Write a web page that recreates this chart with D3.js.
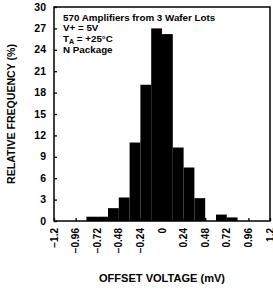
<!DOCTYPE html>
<html>
<head>
  <meta charset="utf-8">
  <script src="https://d3js.org/d3.v7.min.js"></script>
  <style>
    body { margin: 0; background: #fff; }
    text { font-family: "Liberation Sans", Arial, sans-serif; font-weight: bold; fill: #000; }
  </style>
</head>
<body>
  <svg width="273" height="289"></svg>
  <script>
    // histogram bins (mV) and relative frequency (%)
    const binEdges = [-0.84, -0.72, -0.6, -0.48, -0.36, -0.24, -0.12, 0, 0.12, 0.24, 0.36, 0.48, 0.6, 0.72, 0.84];
    const freq = [0.6, 0.6, 1.8, 3.3, 11.0, 19.1, 27.0, 26.2, 10.3, 7.5, 3.2, 0, 0.9, 0.5];
    const xTicks = [-1.2, -0.96, -0.72, -0.48, -0.24, 0, 0.24, 0.48, 0.72, 0.96, 1.2];
    const xTickLabels = ["\u22121.2", "\u22120.96", "\u22120.72", "\u22120.48", "\u22120.24", "0", "0.24", "0.48", "0.72", "0.96", "1.2"];
    const yTicks = [0, 3, 6, 9, 12, 15, 18, 21, 24, 27, 30];
    const notes = ["570 Amplifiers from 3 Wafer Lots", "V+ = 5V", "T|A| = +25\u00B0C", "N Package"];

    const svg = d3.select("svg");
    const mLeft = 54, mRight = 270, mTop = 7, mBottom = 221;

    const x = d3.scaleLinear().domain([-1.2, 1.2]).range([mLeft, mRight]);
    const y = d3.scaleLinear().domain([0, 30]).range([mBottom, mTop]);

    // bars
    const bins = freq.map((v, i) => ({ x0: binEdges[i], x1: binEdges[i + 1], v }));
    svg.append("g").selectAll("rect")
      .data(bins)
      .enter().append("rect")
      .attr("x", d => x(d.x0))
      .attr("width", d => x(d.x1) - x(d.x0))
      .attr("y", d => y(d.v))
      .attr("height", d => y(0) - y(d.v))
      .attr("fill", "#000");

    // y axis (ticks inward)
    const yAxis = svg.append("g")
      .attr("transform", `translate(${mLeft},0)`)
      .call(d3.axisRight(y).tickValues(yTicks).tickSize(3).tickFormat(""));
    yAxis.select(".domain").remove();
    yAxis.selectAll("line").attr("stroke-width", 1.3);

    svg.append("g").selectAll("text")
      .data(yTicks)
      .enter().append("text")
      .attr("x", mLeft - 8)
      .attr("y", d => y(d) + 3.5)
      .attr("text-anchor", "end")
      .attr("font-size", 10.5)
      .text(d => d);

    // x axis (ticks inward)
    const xAxis = svg.append("g")
      .attr("transform", `translate(0,${mBottom})`)
      .call(d3.axisTop(x).tickValues(xTicks).tickSize(3).tickFormat(""));
    xAxis.select(".domain").remove();
    xAxis.selectAll("line").attr("stroke-width", 1.3);

    svg.append("g").selectAll("text")
      .data(xTicks)
      .enter().append("text")
      .attr("transform", d => `translate(${x(d) + 3.5},${mBottom + 7}) rotate(-90)`)
      .attr("text-anchor", "end")
      .attr("font-size", 10)
      .text((d, i) => xTickLabels[i]);

    // frame
    svg.append("rect")
      .attr("x", mLeft).attr("y", mTop)
      .attr("width", mRight - mLeft).attr("height", mBottom - mTop)
      .attr("fill", "none").attr("stroke", "#000").attr("stroke-width", 1.5);

    // notes
    const noteY = [21, 31, 41.5, 53];
    notes.forEach((s, i) => {
      const t = svg.append("text").attr("x", 63).attr("y", noteY[i]).attr("font-size", 9.8);
      const parts = s.split("|");
      if (parts.length === 3) {
        t.append("tspan").text(parts[0]);
        t.append("tspan").attr("font-size", 7).attr("dy", 2.5).text(parts[1]);
        t.append("tspan").attr("dy", -2.5).text(parts[2]);
      } else {
        t.text(s);
      }
    });

    // axis titles
    svg.append("text")
      .attr("x", (mLeft + mRight) / 2).attr("y", 282)
      .attr("text-anchor", "middle")
      .attr("font-size", 11.5)
      .attr("textLength", 126).attr("lengthAdjust", "spacingAndGlyphs")
      .text("OFFSET VOLTAGE (mV)");

    svg.append("text")
      .attr("transform", `translate(15,${(mTop + mBottom) / 2}) rotate(-90)`)
      .attr("text-anchor", "middle")
      .attr("font-size", 10.5)
      .attr("textLength", 140).attr("lengthAdjust", "spacingAndGlyphs")
      .text("RELATIVE FREQUENCY (%)");
  </script>
</body>
</html>
